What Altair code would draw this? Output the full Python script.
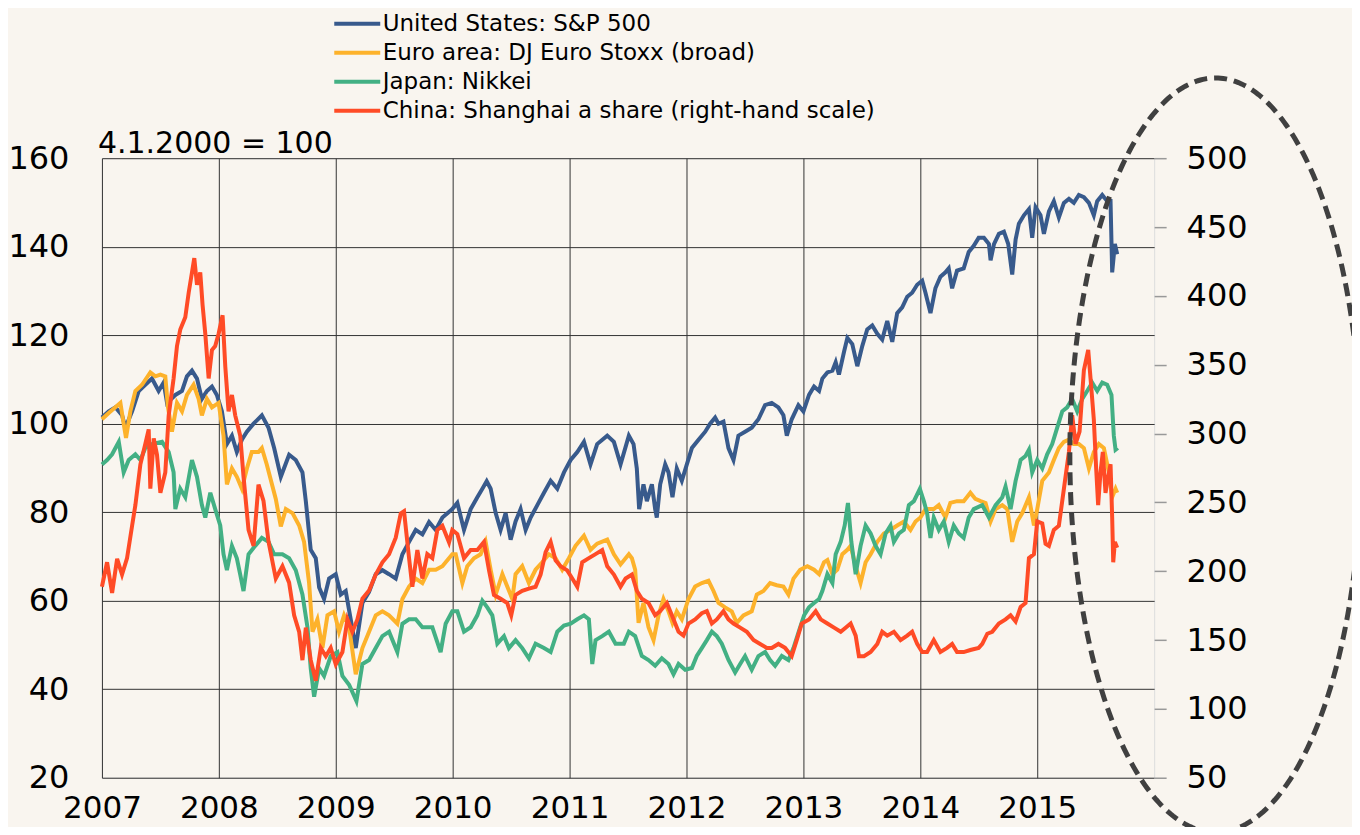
import altair as alt
import numpy as np
import pandas as pd

# ---------------- data (decimal year, index level) ----------------
US = [(2007.000,101.4),(2007.058,102.8),(2007.115,103.7),(2007.172,101.9),(2007.201,99.1),(2007.258,102.8),(2007.315,107.4),(2007.371,108.8),(2007.428,110.2),(2007.485,107.4),(2007.528,109.3),(2007.557,104.7),(2007.628,106.5),(2007.685,107.4),(2007.727,110.7),(2007.770,112.0),(2007.813,110.2),(2007.855,105.6),(2007.898,107.4),(2007.941,108.4),(2007.983,106.5),(2008.026,102.8),(2008.069,95.4),(2008.112,97.3),(2008.154,93.6),(2008.197,96.4),(2008.240,98.2),(2008.297,100.0),(2008.368,101.9),(2008.425,99.1),(2008.473,94.5),(2008.530,88.0),(2008.601,93.0),(2008.658,91.8),(2008.715,89.0),(2008.744,82.5),(2008.786,71.5),(2008.829,69.6),(2008.858,63.0),(2008.900,60.4),(2008.943,65.0),(2009.000,66.0),(2009.043,61.4),(2009.085,62.2),(2009.128,55.8),(2009.171,49.3),(2009.228,59.5),(2009.285,62.0),(2009.342,66.0),(2009.399,66.9),(2009.456,66.0),(2009.513,65.0),(2009.570,70.5),(2009.627,73.3),(2009.684,76.0),(2009.741,75.0),(2009.798,77.8),(2009.855,76.0),(2009.912,78.8),(2009.997,80.7),
      (2010.040,82.1),(2010.097,76.0),(2010.154,80.7),(2010.211,83.4),(2010.254,85.3),(2010.291,87.0),(2010.325,85.3),(2010.368,79.8),(2010.410,76.0),(2010.453,79.8),(2010.496,73.8),(2010.538,77.9),(2010.581,80.7),(2010.624,76.0),(2010.667,78.8),(2010.724,81.6),(2010.781,84.4),(2010.838,87.1),(2010.895,85.3),(2010.952,89.0),(2011.009,91.8),(2011.066,93.6),(2011.123,95.9),(2011.179,90.8),(2011.236,95.4),(2011.322,97.3),(2011.379,95.9),(2011.436,90.8),(2011.507,97.3),(2011.547,95.4),(2011.575,89.9),(2011.595,80.7),(2011.632,86.3),(2011.661,82.5),(2011.704,86.3),(2011.732,80.7),(2011.746,78.8),(2011.775,86.3),(2011.818,90.8),(2011.846,89.0),(2011.880,83.4),(2011.917,89.9),(2011.960,87.1),(2012.003,90.8),(2012.046,94.5),(2012.103,96.4),(2012.160,98.2),(2012.202,100.0),(2012.245,101.4),(2012.274,100.0),(2012.316,100.5),(2012.359,94.5),(2012.402,91.8),(2012.444,97.3),(2012.501,98.2),(2012.558,99.1),(2012.615,101.0),(2012.672,104.2),(2012.729,104.7),(2012.786,103.7),(2012.829,101.9),(2012.858,97.3),(2012.900,101.0),(2012.957,104.2),(2013.000,102.8),
      (2013.048,106.5),(2013.091,108.4),(2013.134,107.4),(2013.162,110.2),(2013.205,111.6),(2013.248,112.0),(2013.276,113.9),(2013.304,111.1),(2013.347,116.2),(2013.376,119.4),(2013.418,118.0),(2013.461,113.0),(2013.504,117.6),(2013.546,121.3),(2013.589,122.2),(2013.632,120.3),(2013.674,119.0),(2013.717,123.2),(2013.760,118.5),(2013.802,125.0),(2013.845,126.3),(2013.888,128.7),(2013.930,129.6),(2013.973,131.4),(2014.016,132.3),(2014.044,129.6),(2014.087,125.0),(2014.129,130.6),(2014.172,133.2),(2014.215,134.2),(2014.243,135.1),(2014.272,130.6),(2014.314,134.6),(2014.371,135.1),(2014.414,138.8),(2014.457,140.2),(2014.499,142.0),(2014.544,142.0),(2014.587,140.6),(2014.601,136.9),(2014.630,140.6),(2014.672,142.9),(2014.715,143.4),(2014.752,140.6),(2014.786,133.7),(2014.815,141.6),(2014.843,145.2),(2014.886,147.1),(2014.929,148.5),(2014.957,142.0),(2014.986,148.9),(2015.028,147.1),(2015.057,142.9),(2015.100,148.0),(2015.142,150.3),(2015.185,146.6),(2015.228,149.9),(2015.271,150.8),(2015.313,149.9),(2015.356,151.7),(2015.399,151.2),(2015.442,149.9),(2015.484,147.1),(2015.513,150.3),(2015.556,151.7),(2015.598,150.3),(2015.627,150.3),(2015.641,134.2),(2015.664,140.6),(2015.684,138.3)]

EU = [(2007.000,101.0),(2007.058,102.4),(2007.115,103.7),(2007.158,104.7),(2007.186,100.0),(2007.206,96.8),(2007.243,102.8),(2007.286,107.4),(2007.343,108.8),(2007.414,111.6),(2007.457,110.7),(2007.500,111.1),(2007.542,110.7),(2007.565,103.7),(2007.599,98.2),(2007.642,104.7),(2007.685,102.8),(2007.727,106.5),(2007.784,108.8),(2007.827,105.6),(2007.855,101.9),(2007.898,105.6),(2007.941,103.7),(2007.998,104.7),(2008.040,97.3),(2008.069,86.3),(2008.112,89.9),(2008.154,88.0),(2008.197,85.3),(2008.240,89.9),(2008.282,93.6),(2008.339,93.6),(2008.368,94.5),(2008.410,90.8),(2008.487,83.0),(2008.530,76.8),(2008.573,80.7),(2008.630,79.8),(2008.687,77.0),(2008.729,73.3),(2008.772,64.0),(2008.801,53.0),(2008.843,55.8),(2008.886,49.3),(2008.929,56.7),(2008.986,57.6),(2009.028,53.0),(2009.071,56.7),(2009.114,54.0),(2009.171,43.4),(2009.228,49.3),(2009.285,53.0),(2009.342,56.7),(2009.399,57.6),(2009.456,56.7),(2009.527,54.8),(2009.570,60.4),(2009.627,63.2),(2009.684,65.0),(2009.741,64.0),(2009.798,67.0),(2009.855,67.0),(2009.912,67.8),(2009.997,70.5),
      (2010.026,70.5),(2010.083,64.0),(2010.125,67.8),(2010.182,69.6),(2010.239,70.5),(2010.282,73.3),(2010.325,67.0),(2010.368,61.4),(2010.425,66.0),(2010.467,63.2),(2010.510,60.4),(2010.538,66.0),(2010.595,67.8),(2010.652,64.0),(2010.709,67.0),(2010.766,68.7),(2010.823,70.5),(2010.880,69.6),(2010.937,67.0),(2010.994,69.6),(2011.051,72.4),(2011.123,74.7),(2011.179,71.5),(2011.236,72.9),(2011.322,73.8),(2011.379,70.5),(2011.436,68.2),(2011.507,70.5),(2011.533,69.6),(2011.561,67.0),(2011.590,55.0),(2011.632,59.5),(2011.675,54.0),(2011.718,51.1),(2011.761,56.7),(2011.803,60.4),(2011.846,57.6),(2011.880,55.0),(2011.917,57.6),(2011.960,55.8),(2012.017,60.4),(2012.074,63.2),(2012.131,64.0),(2012.188,64.5),(2012.231,62.2),(2012.274,59.5),(2012.330,58.5),(2012.387,57.6),(2012.430,55.0),(2012.487,56.7),(2012.558,57.6),(2012.601,61.4),(2012.658,62.2),(2012.715,64.0),(2012.772,63.5),(2012.829,63.2),(2012.872,61.4),(2012.915,65.0),(2012.972,67.0),
      (2013.034,67.8),(2013.091,67.0),(2013.134,66.0),(2013.176,68.7),(2013.205,69.2),(2013.248,66.0),(2013.290,67.0),(2013.333,70.5),(2013.376,71.5),(2013.404,72.4),(2013.447,67.8),(2013.489,64.0),(2013.532,68.7),(2013.575,70.5),(2013.632,73.3),(2013.688,75.2),(2013.745,76.0),(2013.802,77.0),(2013.859,77.9),(2013.916,76.0),(2013.959,77.9),(2014.001,78.8),(2014.044,80.7),(2014.087,80.7),(2014.115,80.7),(2014.158,81.6),(2014.215,78.8),(2014.257,82.1),(2014.314,82.5),(2014.371,82.5),(2014.428,84.4),(2014.471,83.0),(2014.516,82.5),(2014.558,82.1),(2014.601,77.9),(2014.644,80.7),(2014.701,81.6),(2014.744,80.7),(2014.786,73.3),(2014.829,77.9),(2014.872,79.8),(2014.929,83.4),(2014.972,77.0),(2015.000,80.7),(2015.043,87.1),(2015.100,89.0),(2015.142,91.8),(2015.185,94.5),(2015.228,95.9),(2015.271,96.4),(2015.313,95.4),(2015.356,95.4),(2015.399,94.5),(2015.442,89.9),(2015.484,93.6),(2015.527,95.4),(2015.570,94.5),(2015.613,89.0),(2015.641,83.4),(2015.670,85.3),(2015.684,84.4)]

JP = [(2007.000,90.8),(2007.044,91.8),(2007.087,93.1),(2007.144,95.9),(2007.186,89.0),(2007.229,91.8),(2007.286,93.1),(2007.329,91.8),(2007.371,94.5),(2007.428,95.4),(2007.514,95.9),(2007.571,93.6),(2007.613,89.0),(2007.628,80.7),(2007.670,85.3),(2007.713,83.4),(2007.770,91.8),(2007.813,88.0),(2007.855,81.6),(2007.884,78.8),(2007.927,84.4),(2007.969,80.7),(2008.012,77.0),(2008.040,70.5),(2008.069,66.9),(2008.112,72.4),(2008.154,69.6),(2008.183,65.9),(2008.211,62.2),(2008.254,70.5),(2008.311,72.4),(2008.368,74.2),(2008.425,73.3),(2008.473,70.5),(2008.544,70.5),(2008.601,69.6),(2008.658,66.9),(2008.715,61.4),(2008.758,54.0),(2008.786,44.7),(2008.815,38.3),(2008.858,44.7),(2008.900,43.0),(2008.957,47.5),(2009.014,48.4),(2009.057,43.0),(2009.114,41.0),(2009.177,37.3),(2009.228,45.7),(2009.285,46.6),(2009.342,49.3),(2009.399,52.0),(2009.456,53.0),(2009.527,48.4),(2009.570,54.8),(2009.627,55.8),(2009.684,55.8),(2009.741,54.0),(2009.826,54.0),(2009.897,48.4),(2009.940,54.8),(2009.997,57.6),
      (2010.040,57.6),(2010.097,53.0),(2010.154,54.0),(2010.211,56.7),(2010.254,60.0),(2010.296,58.5),(2010.339,56.7),(2010.382,50.3),(2010.439,52.0),(2010.481,49.3),(2010.538,51.1),(2010.595,49.3),(2010.652,47.0),(2010.709,50.3),(2010.781,49.3),(2010.838,48.4),(2010.895,53.0),(2010.952,54.4),(2011.009,54.8),(2011.066,55.8),(2011.123,56.7),(2011.165,55.8),(2011.194,45.7),(2011.222,51.1),(2011.279,52.0),(2011.336,53.0),(2011.393,50.3),(2011.464,50.3),(2011.507,53.0),(2011.561,52.0),(2011.618,47.5),(2011.675,46.6),(2011.732,45.3),(2011.789,47.0),(2011.846,45.7),(2011.889,43.4),(2011.932,45.7),(2011.989,44.4),(2012.046,44.8),(2012.088,47.5),(2012.131,49.3),(2012.174,51.1),(2012.217,53.0),(2012.259,52.0),(2012.302,50.3),(2012.359,46.6),(2012.416,43.8),(2012.459,45.7),(2012.501,47.5),(2012.558,44.4),(2012.615,47.5),(2012.672,48.4),(2012.715,46.6),(2012.758,45.3),(2012.815,47.5),(2012.872,46.6),(2012.915,49.3),(2012.972,54.0),
      (2013.006,56.7),(2013.048,58.5),(2013.091,59.5),(2013.134,60.4),(2013.162,62.2),(2013.205,66.0),(2013.248,64.0),(2013.276,70.5),(2013.319,73.3),(2013.353,77.0),(2013.381,82.1),(2013.410,73.3),(2013.447,66.0),(2013.489,72.4),(2013.532,77.0),(2013.575,75.2),(2013.617,72.4),(2013.660,70.5),(2013.703,75.2),(2013.745,77.0),(2013.774,73.3),(2013.817,75.2),(2013.859,76.0),(2013.902,81.6),(2013.945,82.5),(2013.996,85.3),(2014.030,82.5),(2014.058,79.8),(2014.087,74.2),(2014.115,78.8),(2014.158,76.0),(2014.201,77.9),(2014.243,73.3),(2014.286,77.0),(2014.329,75.2),(2014.371,74.2),(2014.414,78.8),(2014.457,80.7),(2014.530,81.6),(2014.587,78.8),(2014.644,81.6),(2014.701,83.4),(2014.729,85.8),(2014.772,80.7),(2014.815,87.1),(2014.858,91.8),(2014.900,92.7),(2014.929,94.1),(2014.957,89.0),(2015.000,91.8),(2015.043,89.9),(2015.085,93.1),(2015.128,95.4),(2015.171,99.1),(2015.214,102.8),(2015.256,103.7),(2015.299,105.6),(2015.342,102.8),(2015.385,105.6),(2015.427,107.4),(2015.470,109.3),(2015.513,107.4),(2015.556,109.3),(2015.598,108.8),(2015.635,106.5),(2015.655,97.3),(2015.670,94.1),(2015.689,94.5)]

CN = [(2007.000,188.7),(2007.044,206.5),(2007.087,184.3),(2007.130,209.0),(2007.172,197.6),(2007.215,209.5),(2007.258,233.0),(2007.286,248.0),(2007.329,277.7),(2007.371,292.5),(2007.400,303.0),(2007.414,260.0),(2007.443,296.4),(2007.471,284.6),(2007.500,256.9),(2007.542,271.7),(2007.571,313.2),(2007.613,340.0),(2007.642,363.6),(2007.670,375.5),(2007.713,384.4),(2007.742,402.2),(2007.770,417.0),(2007.790,427.4),(2007.813,408.0),(2007.841,417.0),(2007.861,393.3),(2007.884,372.5),(2007.913,340.0),(2007.941,360.7),(2007.969,363.6),(2007.998,372.5),(2008.032,385.9),(2008.055,348.8),(2008.083,316.2),(2008.112,328.0),(2008.140,313.2),(2008.183,298.4),(2008.211,268.8),(2008.254,230.0),(2008.297,218.4),(2008.339,262.9),(2008.382,251.0),(2008.425,221.4),(2008.487,194.7),(2008.544,203.6),(2008.601,191.7),(2008.644,168.0),(2008.687,156.0),(2008.715,135.4),(2008.744,159.0),(2008.786,135.4),(2008.829,120.5),(2008.872,144.3),(2008.915,138.3),(2008.957,144.3),(2009.000,132.4),(2009.057,141.3),(2009.100,165.0),(2009.142,156.0),(2009.185,165.0),(2009.228,180.0),(2009.285,186.0),(2009.342,197.6),(2009.399,206.5),(2009.456,212.4),(2009.513,224.3),(2009.556,242.0),(2009.584,243.6),(2009.627,209.5),(2009.655,188.7),(2009.698,215.4),(2009.741,194.7),(2009.783,212.4),(2009.826,209.5),(2009.869,230.0),(2009.912,233.0),(2009.969,221.0),(2009.997,230.0),
      (2010.040,227.0),(2010.097,209.5),(2010.154,215.4),(2010.211,215.4),(2010.268,221.3),(2010.311,200.6),(2010.353,182.8),(2010.410,180.0),(2010.467,176.9),(2010.501,168.0),(2010.538,182.8),(2010.595,185.8),(2010.652,187.3),(2010.709,188.7),(2010.752,197.6),(2010.795,213.9),(2010.838,221.3),(2010.880,208.0),(2010.923,203.6),(2010.980,200.6),(2011.023,194.7),(2011.066,188.7),(2011.108,206.5),(2011.165,209.5),(2011.222,212.4),(2011.279,215.4),(2011.322,203.6),(2011.379,197.6),(2011.436,188.7),(2011.479,194.7),(2011.533,197.6),(2011.575,185.8),(2011.618,180.0),(2011.675,176.9),(2011.732,168.0),(2011.775,171.0),(2011.832,176.9),(2011.875,168.0),(2011.932,156.0),(2011.974,153.2),(2012.017,162.0),(2012.074,165.0),(2012.131,169.5),(2012.174,171.0),(2012.217,162.0),(2012.259,165.0),(2012.316,171.0),(2012.359,165.0),(2012.402,162.0),(2012.459,159.0),(2012.516,156.0),(2012.573,150.0),(2012.630,147.2),(2012.687,144.3),(2012.729,144.3),(2012.786,147.2),(2012.843,144.3),(2012.900,138.3),(2012.943,150.0),(2012.986,162.0),
      (2013.048,165.0),(2013.105,171.0),(2013.148,165.0),(2013.205,162.0),(2013.262,159.0),(2013.319,156.0),(2013.361,159.0),(2013.404,162.0),(2013.447,153.2),(2013.475,138.3),(2013.518,138.3),(2013.575,141.3),(2013.632,147.2),(2013.674,156.0),(2013.717,153.2),(2013.774,156.0),(2013.831,150.0),(2013.888,153.2),(2013.930,156.0),(2013.973,147.2),(2014.016,141.3),(2014.058,141.3),(2014.115,150.0),(2014.172,141.3),(2014.229,144.3),(2014.272,147.2),(2014.314,141.3),(2014.371,141.3),(2014.428,142.8),(2014.499,144.3),(2014.530,147.2),(2014.573,154.6),(2014.615,156.0),(2014.672,162.0),(2014.729,165.0),(2014.772,168.0),(2014.815,163.5),(2014.858,174.0),(2014.900,176.9),(2014.929,209.5),(2014.972,212.4),(2015.000,236.2),(2015.043,234.7),(2015.071,220.0),(2015.100,218.4),(2015.142,230.0),(2015.185,233.0),(2015.228,259.8),(2015.271,286.6),(2015.299,313.3),(2015.328,292.5),(2015.362,301.4),(2015.399,346.0),(2015.436,360.7),(2015.456,340.0),(2015.484,310.3),(2015.504,274.7),(2015.521,248.0),(2015.541,271.7),(2015.561,286.6),(2015.584,256.9),(2015.607,268.8),(2015.627,277.7),(2015.641,239.0),(2015.650,206.5),(2015.664,221.3),(2015.684,217.0)]

SERIES = ["United States: S&P 500", "Euro area: DJ Euro Stoxx (broad)",
          "Japan: Nikkei", "China: Shanghai a share (right-hand scale)"]
COLORS = ["#385A8C", "#FDB22B", "#43B084", "#FF4B26"]
YEARS = list(range(2007, 2016))
LEFT_TICKS = list(range(20, 161, 20))
RIGHT_TICKS = list(range(50, 501, 50))
BASE_NOTE = "4.1.2000 = 100"

# dashed ellipse annotation (centre / radii in data units: years, right-hand scale)
ELL_CX, ELL_RX = 2016.526, 1.247
ELL_CY, ELL_RY = 284.3, 274.0

FONT = "DejaVu Sans"


def frame(name, pts):
    return pd.DataFrame({"t": [p[0] for p in pts], "v": [p[1] for p in pts], "series": name})


left_df = pd.concat([frame(SERIES[0], US), frame(SERIES[1], EU), frame(SERIES[2], JP)], ignore_index=True)
cn_df = frame(SERIES[3], CN)

theta = np.linspace(0, 2 * np.pi, 361)
ell_df = pd.DataFrame({"t": ELL_CX + ELL_RX * np.cos(theta),
                       "v": ELL_CY + ELL_RY * np.sin(theta),
                       "i": np.arange(len(theta))})

xscale = alt.Scale(domain=[2007, 2016], nice=False, zero=False)
lscale = alt.Scale(domain=[20, 160], nice=False, zero=False)
rscale = alt.Scale(domain=[50, 500], nice=False, zero=False)

x_axis = alt.Axis(values=YEARS, format="d", title=None, grid=True, gridColor="#333333",
                  gridWidth=1, ticks=False, domain=False, labelPadding=16, labelFontSize=31,
                  labelFlush=False, labelOverlap=False, labelFont=FONT, labelColor="#000")
left_axis = alt.Axis(values=LEFT_TICKS, title=None, grid=True, gridColor="#333333", gridWidth=1,
                     ticks=False, domain=False, labelPadding=33, labelFontSize=32, orient="left",
                     labelFlush=False, labelOverlap=False, labelFont=FONT, labelColor="#000")
right_axis = alt.Axis(values=RIGHT_TICKS, title=None, grid=False, ticks=True, tickSize=12,
                      tickColor="#999999", tickWidth=1.5, domain=False, labelPadding=20,
                      labelFontSize=32, orient="right", labelFlush=False, labelOverlap=False,
                      labelFont=FONT, labelColor="#000")

legend = alt.Legend(orient="none", legendX=242, legendY=-148, title=None,
                    symbolType="M-2,0L2,0", symbolSize=529, symbolStrokeWidth=4,
                    labelFontSize=23, labelFont=FONT, labelColor="#000", labelOffset=12,
                    rowPadding=3, padding=0, labelLimit=0, direction="vertical")
color = alt.Color("series:N", scale=alt.Scale(domain=SERIES, range=COLORS), legend=legend)

left_lines = alt.Chart(left_df).mark_line(strokeWidth=4).encode(
    x=alt.X("t:Q", scale=xscale, axis=x_axis),
    y=alt.Y("v:Q", scale=lscale, axis=left_axis),
    color=color,
)

note = alt.Chart(pd.DataFrame({"a": [0]})).mark_text(
    text=BASE_NOTE, align="left", baseline="alphabetic", dx=-4, dy=-5,
    fontSize=30, font=FONT, color="#000"
).encode(x=alt.datum(2007), y=alt.datum(160))

cn_line = alt.Chart(cn_df).mark_line(strokeWidth=4).encode(
    x=alt.X("t:Q", scale=xscale, axis=x_axis),
    y=alt.Y("v:Q", scale=rscale, axis=right_axis),
    color=color,
)

ellipse = alt.Chart(ell_df).mark_line(color="#404040", strokeWidth=5, strokeDash=[13, 7],
                                      clip=False).encode(
    x=alt.X("t:Q", scale=xscale),
    y=alt.Y("v:Q", scale=rscale),
    order="i:Q",
)

left = alt.layer(left_lines, note)
right = alt.layer(cn_line, ellipse)

chart = alt.layer(left, right).resolve_scale(y="independent").properties(
    width=1053, height=620,
    autosize=alt.AutoSizeParams(type="none"),
    padding={"left": 94, "top": 150, "right": 198, "bottom": 49},
    background="#F9F5EF",
).configure_view(fill="white", stroke="#000", strokeWidth=1.5).configure(font=FONT)

chart.save("out.html", embed_options={"renderer": "svg", "actions": False})
